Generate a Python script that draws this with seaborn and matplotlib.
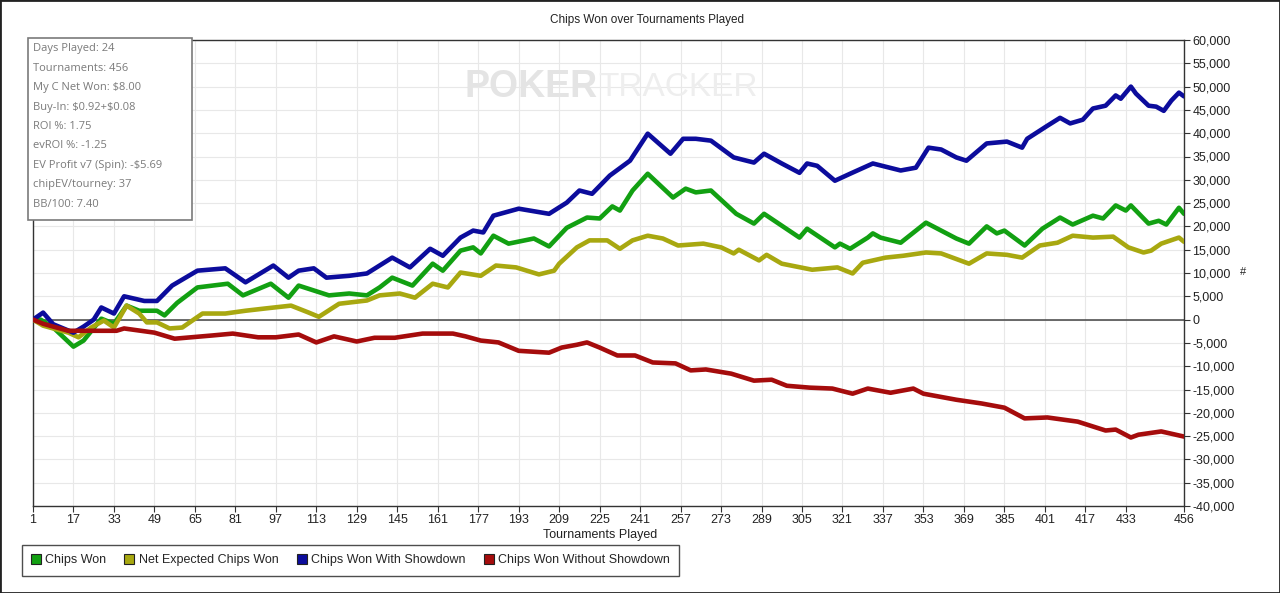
import pandas as pd
import matplotlib
matplotlib.use('Agg')
import matplotlib.pyplot as plt
from matplotlib.lines import Line2D
from matplotlib.patches import Rectangle
from matplotlib.ticker import FuncFormatter
import seaborn as sns

# values (tournament number, chips)
blue_t = [1, 5, 9, 17, 21, 25, 28, 33, 37, 45, 50, 56, 66, 77, 85, 96, 102, 106, 112, 117,
          126, 133, 143, 150, 158, 163, 170, 175, 179, 183, 193, 205, 212, 217, 222, 229, 237, 244, 253, 258,
          263, 269, 278, 286, 290, 297, 304, 307, 311, 318, 324, 333, 344, 350, 355, 360, 366, 370, 378, 386,
          392, 394, 402, 407, 411, 416, 420, 425, 429, 431, 435, 437, 442, 445, 448, 451, 454, 456]
blue_v = [0, 1500, -1000, -2800, -1500, 0, 2600, 1300, 5000, 4000, 4000, 7300, 10500, 11000, 8000, 11600, 9000, 10500, 11000, 9000,
          9400, 9900, 13300, 11200, 15200, 13700, 17600, 19100, 18700, 22300, 23800, 22700, 25100, 27700, 27000, 30900, 34100, 39900, 35600, 38800,
          38800, 38400, 34800, 33700, 35600, 33500, 31500, 33500, 33000, 29800, 31300, 33500, 32000, 32600, 36900, 36500, 34800, 34100, 37800, 38200,
          36900, 38800, 41600, 43300, 42100, 42900, 45300, 45900, 48100, 47400, 50000, 48500, 45900, 45700, 44800, 47000, 48700, 47900]

green_t = [1, 4, 9, 17, 21, 28, 33, 38, 43, 50, 53, 58, 66, 78, 84, 95, 102, 106, 118, 126,
           133, 138, 143, 151, 159, 163, 170, 175, 178, 183, 189, 199, 205, 212, 220, 225, 230, 233, 238, 244,
           254, 259, 263, 269, 279, 286, 290, 304, 307, 318, 320, 324, 331, 333, 336, 344, 354, 366, 371, 378,
           382, 385, 393, 400, 407, 412, 420, 424, 429, 433, 435, 442, 446, 449, 454, 456]
green_v = [0, 0, -1700, -5800, -4500, 200, -900, 3000, 1900, 1900, 900, 3600, 6900, 7700, 5200, 7700, 4700, 7300, 5200, 5600,
           5200, 6900, 9000, 7300, 12000, 10500, 14800, 15500, 14200, 18000, 16300, 17400, 15700, 19700, 21900, 21700, 24300, 23400, 27700, 31300,
           26200, 28100, 27300, 27700, 22700, 20600, 22700, 17600, 19500, 15500, 16300, 15200, 17600, 18500, 17600, 16500, 20800, 17400, 16300, 20000,
           18500, 19100, 15900, 19500, 21900, 20400, 22300, 21700, 24500, 23400, 24500, 20600, 21200, 20400, 24000, 22700]

yellow_t = [1, 5, 15, 19, 24, 29, 33, 38, 43, 46, 50, 55, 60, 68, 77, 85, 93, 103, 110, 114,
            122, 133, 138, 146, 152, 159, 165, 170, 178, 184, 192, 201, 207, 209, 216, 221, 228, 233, 238, 244,
            250, 256, 266, 273, 278, 280, 288, 291, 297, 309, 319, 325, 329, 338, 345, 354, 360, 371, 378, 386,
            392, 399, 406, 412, 420, 428, 434, 440, 443, 447, 454, 456]
yellow_v = [0, -1300, -2800, -3800, -1700, -200, -1700, 3000, 1300, -600, -600, -1900, -1700, 1300, 1300, 1900, 2400, 3000, 1500, 600,
            3400, 4100, 5200, 5600, 4700, 7700, 6900, 10100, 9400, 11600, 11200, 9700, 10500, 12000, 15500, 17000, 17000, 15200, 17000, 18000,
            17400, 15900, 16300, 15500, 14200, 15000, 12700, 13900, 12000, 10700, 11200, 9900, 12200, 13300, 13700, 14400, 14200, 12000, 14200, 13900,
            13300, 15900, 16500, 18000, 17600, 17800, 15500, 14400, 14800, 16300, 17600, 16700]

red_t = [1, 5, 15, 21, 34, 37, 49, 57, 72, 80, 90, 97, 106, 113, 120, 129, 136, 144, 155, 167,
         172, 178, 185, 193, 205, 210, 216, 220, 225, 232, 239, 246, 255, 261, 267, 277, 286, 293, 299, 308,
         317, 325, 331, 340, 349, 353, 366, 376, 385, 393, 402, 414, 425, 429, 435, 438, 447, 456]
red_v = [0, -900, -2400, -2400, -2400, -1900, -2800, -4100, -3400, -3000, -3800, -3800, -3200, -4900, -3600, -4700, -3900, -3900, -3000, -3000,
         -3600, -4500, -4900, -6700, -7100, -6000, -5400, -4900, -6000, -7700, -7700, -9200, -9400, -10900, -10700, -11600, -13100, -12900, -14200, -14600,
         -14800, -15900, -14800, -15700, -14800, -15900, -17200, -18000, -18900, -21200, -21000, -21900, -23800, -23600, -25300, -24700, -24000, -25100]

series_names = ["Chips Won", "Net Expected Chips Won", "Chips Won With Showdown", "Chips Won Without Showdown"]
colors = ["#12a012", "#a8a810", "#0c0c9c", "#a50c0c"]
x_ticks = [1, 17, 33, 49, 65, 81, 97, 113, 129, 145, 161, 177, 193, 209, 225, 241, 257, 273,
           289, 305, 321, 337, 353, 369, 385, 401, 417, 433, 456]
stats = ["Days Played: 24", "Tournaments: 456", r"My C Net Won: \$8.00", r"Buy-In: \$0.92+\$0.08",
         "ROI %: 1.75", "evROI %: -1.25", r"EV Profit v7 (Spin): -\$5.69", "chipEV/tourney: 37", "BB/100: 7.40"]

frames = []
for name, t, v in zip(series_names, [green_t, yellow_t, blue_t, red_t], [green_v, yellow_v, blue_v, red_v]):
    frames.append(pd.DataFrame({'t': t, 'chips': v, 'series': name}))
data = pd.concat(frames, ignore_index=True)

sns.set_style("white")
plt.rcParams['font.family'] = ['Liberation Sans', 'DejaVu Sans']

W, H = 1280, 593
fig = plt.figure(figsize=(12.8, 5.93), dpi=100)
ax = fig.add_axes([33 / W, 1 - 506 / H, (1184 - 33) / W, (506 - 40) / H])

ax.axhline(0, color='#444444', lw=1.1, zorder=1.5)
sns.lineplot(data=data, x='t', y='chips', hue='series', hue_order=series_names,
             palette=dict(zip(series_names, colors)), lw=3.3, legend=False, ax=ax, zorder=3)

ax.set_xlim(1, 456)
ax.set_ylim(-40000, 60000)
ax.set_xticks(x_ticks)
ax.set_yticks(range(-40000, 60001, 5000))
ax.yaxis.set_major_formatter(FuncFormatter(lambda v, p: f"{int(v):,}"))
ax.yaxis.tick_right()
ax.tick_params(axis='both', direction='out', length=4, width=0.8, color='#333333',
               labelsize=9, labelcolor='#222222', pad=2)
ax.tick_params(axis='y', left=False, right=True)
ax.tick_params(axis='x', bottom=True)
ax.grid(True, color='#e8e8e8', lw=0.8)
for side in ['left', 'right', 'top', 'bottom']:
    ax.spines[side].set_visible(True)
    ax.spines[side].set_color('#333333')
    ax.spines[side].set_linewidth(1)
ax.set_xlabel('Tournaments Played', fontsize=9, color='#222222')
ax.xaxis.set_label_coords((600 - 33) / (1184 - 33), -(535 - 506) / (506 - 40))
ax.xaxis.label.set_va('center')
ax.set_ylabel('')

# watermark
ax.text(598 / W, 1 - 87 / H, 'POKER', transform=fig.transFigure, ha='right', va='center',
        fontsize=27, fontweight='bold', color='#e4e4e4', zorder=1)
ax.text(598 / W, 1 - 87 / H, 'TRACKER', transform=fig.transFigure, ha='left', va='center',
        fontsize=24, color='#eeeeee', zorder=1)

fig.text(647 / W, 1 - 20 / H, 'Chips Won over Tournaments Played', ha='center', va='center',
         fontsize=8.5, color='#222222')
fig.text(1243 / W, 1 - 272 / H, '#', ha='center', va='center', fontsize=8, color='#222222')

# stats box
fig.patches.append(Rectangle((28 / W, 1 - 220 / H), (192 - 28) / W, (220 - 38) / H,
                             transform=fig.transFigure, facecolor='white', edgecolor='#7a7a7a',
                             lw=1.2, zorder=5))
for i, line in enumerate(stats):
    fig.text(33 / W, 1 - (49 + i * 19.4) / H, line, ha='left', va='center', fontsize=8,
             color='#7a7a7a', family=['Open Sans', 'DejaVu Sans'], zorder=6)

handles = [Line2D([], [], ls='', marker='s', markersize=7, markerfacecolor=c,
                  markeredgecolor='#222222', markeredgewidth=0.8) for c in colors]
leg = fig.legend(handles, series_names, loc='upper left', bbox_to_anchor=(22 / W, 1 - 545 / H),
                 ncol=4, frameon=True, fancybox=False, edgecolor='#222222', fontsize=9,
                 handlelength=0.7, handletextpad=0.4, columnspacing=1.5, borderpad=0.75,
                 borderaxespad=0)
leg.get_frame().set_linewidth(1)

fig.patches.append(Rectangle((0, 0), 1, 1, transform=fig.transFigure, fill=False,
                             edgecolor='#222222', lw=2, zorder=10))

fig.savefig('out.png', dpi=100)
